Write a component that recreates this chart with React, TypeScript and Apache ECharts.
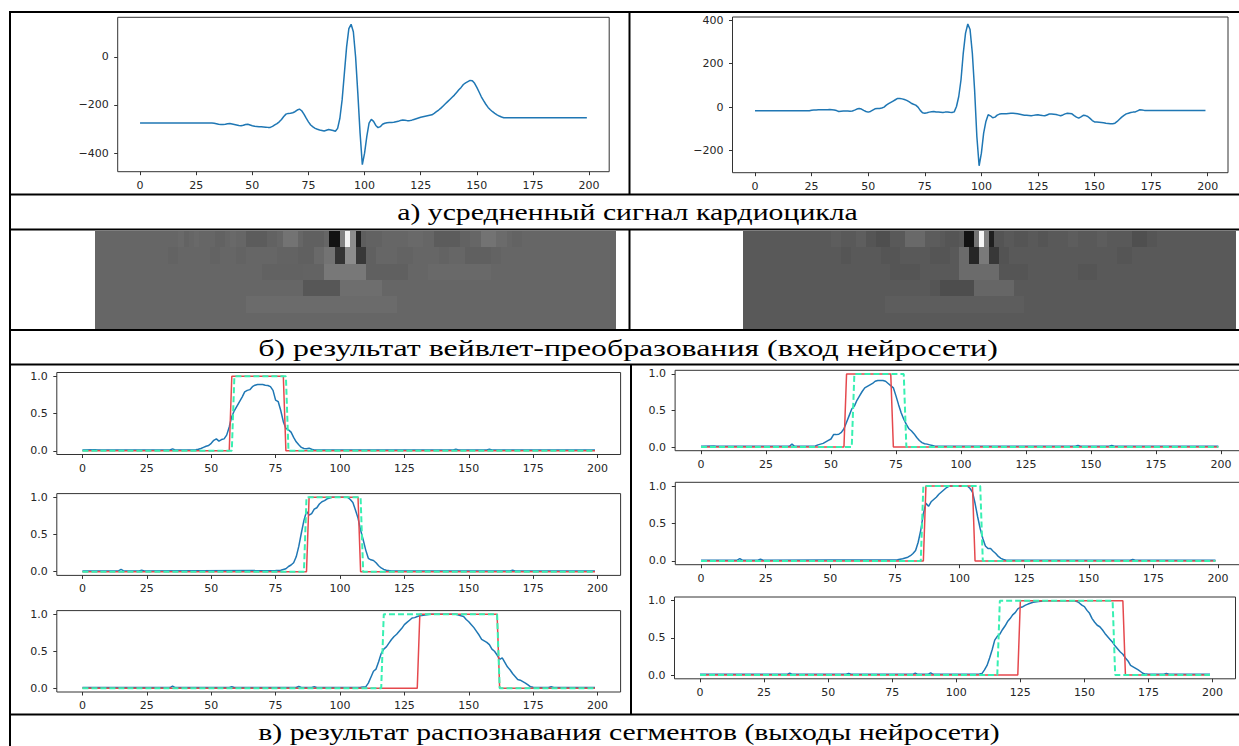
import React, { useEffect, useRef } from 'react';
import * as echarts from 'echarts';

// ---------- DATA ----------
const X_TICKS = [0, 25, 50, 75, 100, 125, 150, 175, 200];
const ECG_A_TICKS = [-400, -200, 0];
const ECG_B_TICKS = [-200, 0, 200, 400];
const SEG_TICKS = [0, 0.5, 1];

const CAPTION_A = 'а) усредненный сигнал кардиоцикла';
const CAPTION_B = 'б) результат вейвлет-преобразования (вход нейросети)';
const CAPTION_C = 'в) результат распознавания сегментов (выходы нейросети)';

// averaged cardiocycle, left
const ECG_A = [
  -275, -275, -275, -275, -275, -275, -275, -275, -275, -275,
  -275, -275, -275, -275, -275, -275, -275, -275, -275, -275,
  -275, -275, -275, -275, -275, -275, -275, -275, -275, -275,
  -275, -275, -275, -276, -278, -280, -281, -281, -280, -278,
  -277, -279, -281, -283, -285, -286, -284, -281, -280, -283,
  -286, -288, -289, -290, -290, -291, -292, -293, -293, -289,
  -283, -277, -270, -260, -248, -238, -235, -234, -232, -228,
  -221, -217, -224, -238, -255, -270, -283, -291, -297, -301,
  -304, -306, -308, -305, -302, -304, -306, -309, -297, -255,
  -179, -69, 41, 117, 135, 104, 0, -152, -317, -448,
  -400, -330, -275, -260, -268, -285, -294, -290, -280, -276,
  -274, -273, -273, -272, -270, -268, -264, -262, -263, -265,
  -265, -263, -260, -257, -254, -251, -249, -247, -245, -243,
  -241, -235, -228, -221, -213, -204, -195, -186, -177, -168,
  -159, -148, -137, -127, -115, -108, -103, -98, -99, -110,
  -127, -146, -166, -182, -197, -210, -220, -228, -235, -241,
  -246, -250, -253, -253, -253, -253, -253, -253, -253, -253,
  -253, -253, -253, -253, -253, -253, -253, -253, -253, -253,
  -253, -253, -253, -253, -253, -253, -253, -253, -253, -253,
  -253, -253, -253, -253, -253, -253, -253, -253, -253, -253,
];

// averaged cardiocycle, right
const ECG_B = [
  -17, -17, -17, -17, -17, -17, -17, -17, -17, -17,
  -17, -17, -17, -17, -17, -17, -17, -17, -17, -17,
  -17, -17, -17, -17, -17, -14, -13, -13, -12, -12,
  -12, -12, -12, -11, -12, -13, -16, -20, -19, -18,
  -18, -18, -19, -18, -14, -9, -6, -9, -15, -20,
  -23, -20, -14, -8, -6, -6, -4, 0, 9, 16,
  22, 28, 34, 40, 40, 38, 35, 31, 25, 18,
  13, 9, 0, -15, -26, -28, -26, -23, -21, -20,
  -22, -23, -24, -25, -23, -22, -24, -25, -22, 3,
  49, 126, 249, 341, 383, 357, 249, 80, -135, -270,
  -212, -120, -66, -35, -40, -49, -46, -37, -32, -31,
  -31, -30, -29, -28, -28, -29, -31, -33, -35, -37,
  -38, -39, -40, -38, -36, -35, -37, -39, -40, -36,
  -32, -32, -33, -34, -37, -40, -36, -31, -28, -29,
  -31, -39, -46, -51, -45, -38, -39, -43, -52, -62,
  -68, -69, -70, -71, -72, -74, -75, -77, -77, -74,
  -66, -56, -46, -38, -31, -28, -25, -23, -22, -17,
  -12, -13, -15, -15, -15, -15, -15, -15, -15, -15,
  -15, -15, -15, -15, -15, -15, -15, -15, -15, -15,
  -15, -15, -15, -15, -15, -15, -15, -15, -15, -15,
];

// wavelet images: 6 levels x 100 cells, background grey level + [from, to, grey] runs
const WAVE_A_BG = 0.4;
const WAVE_A_ROWS = [
  [[16, 17, 0.41], [17, 18, 0.39], [19, 20, 0.41], [23, 25, 0.385], [26, 27, 0.41], [29, 33, 0.36], [33, 35, 0.385], [36, 39, 0.45], [40, 44, 0.375], [45, 47, 0.07], [47, 48, 0.5], [48, 49, 0.95], [49, 50, 0.55], [50, 51, 0.12], [51, 52, 0.37], [52, 55, 0.385], [60, 63, 0.41], [65, 70, 0.36], [70, 72, 0.385], [74, 77, 0.45], [77, 79, 0.42], [80, 82, 0.39]],
  [[14, 16, 0.39], [22, 24, 0.39], [27, 29, 0.39], [35, 39, 0.39], [39, 42, 0.375], [42, 44, 0.41], [44, 46, 0.45], [46, 48, 0.2], [48, 50, 0.55], [50, 52, 0.22], [52, 54, 0.375], [58, 61, 0.39], [66, 68, 0.39], [71, 76, 0.375], [76, 78, 0.39]],
  [[32, 40, 0.385], [40, 44, 0.39], [44, 52, 0.47], [52, 60, 0.375], [64, 76, 0.41]],
  [[40, 47, 0.34], [47, 55, 0.43]],
  [[29, 58, 0.42]],
  [],
];
const WAVE_B_BG = 0.35;
const WAVE_B_ROWS = [
  [[18, 20, 0.365], [23, 25, 0.37], [25, 27, 0.335], [27, 30, 0.31], [33, 37, 0.41], [37, 40, 0.36], [41, 44, 0.335], [45, 47, 0.07], [47, 48, 0.45], [48, 49, 0.97], [49, 50, 0.5], [50, 51, 0.12], [51, 53, 0.33], [55, 58, 0.335], [60, 62, 0.335], [66, 68, 0.365], [72, 74, 0.365], [79, 82, 0.31], [82, 84, 0.335]],
  [[20, 22, 0.335], [28, 32, 0.335], [38, 42, 0.335], [44, 46, 0.42], [46, 48, 0.15], [48, 50, 0.48], [50, 52, 0.22], [52, 54, 0.325], [76, 79, 0.335]],
  [[30, 36, 0.335], [44, 52, 0.42], [52, 58, 0.335], [68, 72, 0.335]],
  [[38, 40, 0.335], [40, 47, 0.3], [47, 55, 0.4]],
  [[29, 57, 0.365]],
  [],
];
const WAVE_CELLS = 100;
const WAVE_LEVELS = 6;

// segment recognition: network output (blue), reference (red), second reference (green dashed)
const SEG_L1_PRED = [[0, 0.01], [5, 0.015], [6, 0.01], [34, 0.01], [35, 0.025], [36, 0.01], [44, 0.015], [45, 0.02], [46, 0.03], [47, 0.045], [48, 0.06], [49, 0.07], [50, 0.1], [51, 0.14], [52, 0.16], [53, 0.13], [54, 0.15], [55, 0.16], [56, 0.21], [57, 0.32], [58, 0.46], [59, 0.54], [60, 0.6], [61, 0.66], [62, 0.72], [63, 0.79], [64, 0.81], [65, 0.82], [66, 0.86], [67, 0.88], [68, 0.89], [69, 0.89], [70, 0.89], [71, 0.88], [72, 0.875], [73, 0.86], [74, 0.81], [75, 0.68], [76, 0.66], [77, 0.54], [78, 0.39], [79, 0.3], [80, 0.28], [81, 0.25], [82, 0.18], [83, 0.12], [84, 0.08], [85, 0.045], [86, 0.03], [87, 0.027], [88, 0.035], [89, 0.02], [90, 0.01], [144, 0.01], [145, 0.02], [146, 0.01], [157, 0.01], [158, 0.02], [159, 0.01], [199, 0.01]];
const SEG_L1_RED = [[0, 0], [57, 0], [58, 1], [78, 1], [79, 0], [199, 0]];
const SEG_L1_GREEN = [[0, 0], [58, 0], [59, 1], [79, 1], [80, 0], [199, 0]];

const SEG_R1_PRED = [[0, 0.01], [5, 0.015], [6, 0.01], [34, 0.01], [35, 0.04], [36, 0.01], [44, 0.015], [45, 0.03], [46, 0.04], [47, 0.05], [48, 0.07], [49, 0.09], [50, 0.11], [51, 0.17], [52, 0.17], [53, 0.175], [54, 0.2], [55, 0.25], [56, 0.34], [57, 0.43], [58, 0.52], [59, 0.56], [60, 0.64], [61, 0.7], [62, 0.76], [63, 0.81], [64, 0.83], [65, 0.85], [66, 0.87], [67, 0.9], [68, 0.91], [69, 0.91], [70, 0.91], [71, 0.9], [72, 0.87], [73, 0.84], [74, 0.81], [75, 0.7], [76, 0.58], [77, 0.47], [78, 0.38], [79, 0.31], [80, 0.25], [81, 0.22], [82, 0.18], [83, 0.13], [84, 0.09], [85, 0.06], [86, 0.045], [87, 0.04], [88, 0.03], [89, 0.02], [90, 0.01], [144, 0.01], [145, 0.02], [146, 0.01], [157, 0.01], [158, 0.02], [159, 0.01], [199, 0.01]];
const SEG_R1_RED = [[0, 0], [55, 0], [56, 1], [73, 1], [74, 0], [199, 0]];
const SEG_R1_GREEN = [[0, 0], [58, 0], [59, 1], [78, 1], [79, 0], [199, 0]];

const SEG_L2_PRED = [[0, 0.01], [14, 0.01], [15, 0.03], [16, 0.01], [22, 0.01], [23, 0.02], [24, 0.01], [75, 0.015], [77, 0.02], [78, 0.03], [79, 0.04], [80, 0.07], [81, 0.09], [82, 0.12], [83, 0.2], [84, 0.34], [85, 0.52], [86, 0.69], [87, 0.81], [88, 0.76], [89, 0.78], [90, 0.84], [91, 0.86], [92, 0.91], [93, 0.94], [94, 0.955], [95, 0.98], [96, 0.99], [97, 1.0], [103, 1.0], [104, 0.97], [105, 0.93], [106, 0.83], [107, 0.72], [108, 0.56], [109, 0.43], [110, 0.29], [111, 0.18], [112, 0.16], [113, 0.15], [114, 0.12], [115, 0.08], [116, 0.05], [117, 0.03], [118, 0.02], [120, 0.01], [166, 0.01], [167, 0.02], [168, 0.01], [199, 0.01]];
const SEG_L2_RED = [[0, 0], [87, 0], [88, 1], [107, 1], [108, 0], [199, 0]];
const SEG_L2_GREEN = [[0, 0], [86, 0], [87, 1], [108, 1], [109, 0], [199, 0]];

const SEG_R2_PRED = [[0, 0.01], [14, 0.01], [15, 0.03], [16, 0.01], [22, 0.01], [23, 0.025], [24, 0.01], [76, 0.015], [78, 0.03], [79, 0.04], [80, 0.05], [81, 0.07], [82, 0.1], [83, 0.14], [84, 0.25], [85, 0.41], [86, 0.63], [87, 0.77], [88, 0.73], [89, 0.79], [90, 0.82], [91, 0.85], [92, 0.89], [93, 0.92], [94, 0.95], [95, 0.98], [96, 1.0], [103, 1.0], [104, 0.97], [105, 0.92], [106, 0.77], [107, 0.59], [108, 0.43], [109, 0.3], [110, 0.2], [111, 0.165], [112, 0.165], [113, 0.13], [114, 0.1], [115, 0.06], [116, 0.035], [117, 0.02], [118, 0.01], [166, 0.01], [167, 0.02], [168, 0.01], [199, 0.01]];
const SEG_R2_RED = [[0, 0], [86, 0], [87, 1], [105, 1], [106, 0], [199, 0]];
const SEG_R2_GREEN = [[0, 0], [85, 0], [86, 1], [108, 1], [109, 0], [199, 0]];

const SEG_L3_PRED = [[0, 0.01], [34, 0.01], [35, 0.03], [36, 0.01], [57, 0.01], [58, 0.02], [59, 0.01], [83, 0.01], [84, 0.025], [85, 0.01], [89, 0.01], [90, 0.02], [91, 0.01], [108, 0.015], [110, 0.02], [111, 0.07], [112, 0.15], [113, 0.23], [114, 0.26], [115, 0.36], [116, 0.47], [117, 0.53], [118, 0.56], [119, 0.61], [120, 0.66], [121, 0.7], [122, 0.73], [123, 0.77], [124, 0.81], [125, 0.86], [126, 0.89], [127, 0.92], [128, 0.95], [129, 0.955], [130, 0.97], [131, 0.98], [133, 0.99], [135, 1.0], [145, 1.0], [146, 0.99], [147, 0.98], [148, 0.97], [149, 0.93], [150, 0.9], [151, 0.86], [152, 0.82], [153, 0.77], [154, 0.72], [155, 0.66], [156, 0.64], [157, 0.62], [158, 0.59], [159, 0.53], [160, 0.5], [161, 0.45], [162, 0.39], [163, 0.41], [164, 0.35], [165, 0.29], [166, 0.25], [167, 0.2], [168, 0.16], [169, 0.12], [170, 0.11], [171, 0.09], [172, 0.07], [173, 0.045], [174, 0.02], [175, 0.013], [176, 0.01], [181, 0.01], [182, 0.02], [183, 0.01], [199, 0.01]];
const SEG_L3_RED = [[0, 0], [130, 0], [131, 1], [161, 1], [162, 0], [199, 0]];
const SEG_L3_GREEN = [[0, 0], [116, 0], [117, 1], [161, 1], [162, 0], [199, 0]];

const SEG_R3_PRED = [[0, 0.01], [34, 0.01], [35, 0.025], [36, 0.01], [57, 0.01], [58, 0.02], [59, 0.01], [83, 0.01], [84, 0.025], [85, 0.01], [89, 0.01], [90, 0.03], [91, 0.01], [109, 0.015], [110, 0.02], [111, 0.07], [112, 0.13], [113, 0.23], [114, 0.34], [115, 0.47], [116, 0.52], [117, 0.55], [118, 0.61], [119, 0.66], [120, 0.72], [121, 0.76], [122, 0.81], [123, 0.84], [124, 0.89], [125, 0.91], [126, 0.92], [127, 0.94], [128, 0.955], [130, 0.98], [132, 0.99], [135, 1.0], [146, 1.0], [147, 0.99], [148, 0.97], [149, 0.94], [150, 0.92], [151, 0.87], [152, 0.83], [153, 0.76], [154, 0.71], [155, 0.67], [156, 0.65], [157, 0.61], [158, 0.56], [159, 0.52], [160, 0.48], [161, 0.44], [162, 0.39], [163, 0.35], [164, 0.31], [165, 0.28], [166, 0.23], [167, 0.19], [168, 0.13], [169, 0.11], [170, 0.09], [171, 0.07], [172, 0.045], [173, 0.02], [174, 0.013], [175, 0.01], [181, 0.01], [182, 0.02], [183, 0.01], [199, 0.01]];
const SEG_R3_RED = [[0, 0], [124, 0], [125, 1], [165, 1], [166, 0], [199, 0]];
const SEG_R3_GREEN = [[0, 0], [116, 0], [117, 1], [161, 1], [162, 0], [199, 0]];

// ---------- STYLE ----------
const BLUE = '#1f77b4';
const RED = '#e5484d';
const GREEN = '#38f0b2';
const TICK_FONT = 'DejaVu Sans';
const AXIS_COLOR = '#333333';
const LABEL_COLOR = '#262626';
const CAPTION_FAMILY = 'Liberation Serif, Times New Roman, Tinos, serif';
const CAPTION_SIZE = 24;

const fmtMinus = (v: number) => String(v).replace('-', '\u2212');
const fmtSeg = (v: number) => v.toFixed(1);

function valueAxis(gridIndex: number, min: number, max: number, ticks: number[], fmt: (v: number) => string, margin: number) {
  return {
    type: 'value',
    gridIndex,
    min,
    max,
    axisLine: { show: false, onZero: false },
    splitLine: { show: false },
    axisTick: { show: true, inside: false, length: 3.5, customValues: ticks, lineStyle: { color: AXIS_COLOR, width: 1 } },
    axisLabel: {
      show: true,
      customValues: ticks,
      formatter: fmt,
      margin,
      fontFamily: TICK_FONT,
      fontSize: 11,
      color: LABEL_COLOR,
    },
  };
}

// runs [from, to, level, grey]; background first so details are painted on top
function waveRuns(bg: number, rows: number[][][]) {
  const out: number[][] = [];
  for (let r = 0; r < WAVE_LEVELS; r++) {
    out.push([0, WAVE_CELLS, r, bg]);
    for (const [a, b, g] of rows[r]) out.push([a, b, r, g]);
  }
  return out;
}

const toXY = (arr: number[]) => arr.map((v, i) => [i, v]);

function renderCell(_params: any, api: any) {
  const x0 = api.value(0), x1 = api.value(1), row = api.value(2), g = api.value(3);
  const p0 = api.coord([x0, row]);
  const p1 = api.coord([x1, row + 1]);
  const c = Math.round(g * 255);
  const xa = Math.round(p0[0]), xb = Math.round(p1[0]);
  const ya = Math.round(Math.min(p0[1], p1[1])), yb = Math.round(Math.max(p0[1], p1[1]));
  return {
    type: 'rect',
    shape: { x: xa, y: ya, width: xb - xa, height: yb - ya },
    style: { fill: `rgb(${c},${c},${c})`, stroke: null },
  };
}

function measureText(text: string, family: string, size: number) {
  try {
    const ctx = document.createElement('canvas').getContext('2d');
    if (!ctx) return 0;
    ctx.font = `${size}px ${family.split(',').map((f) => {
      const t = f.trim();
      return t === 'serif' ? t : `"${t}"`;
    }).join(', ')}`;
    return ctx.measureText(text).width;
  } catch (e) {
    return 0;
  }
}

export default function App() {
  const ref = useRef<HTMLDivElement>(null);

  useEffect(() => {
    if (!ref.current) return;
    const chart = echarts.init(ref.current, undefined, { renderer: 'svg' });

    const plotGrid = (left: number, top: number, width: number, height: number, border = true) => ({
      left, top, width, height,
      show: border,
      borderColor: AXIS_COLOR,
      borderWidth: border ? 1 : 0,
      backgroundColor: 'transparent',
      containLabel: false,
      outerBoundsMode: 'none',
    });

    const grids = [
      plotGrid(117.7, 17.3, 491.5, 154.4), // 0 ECG A
      plotGrid(732.5, 17, 495.5, 155.7), // 1 ECG B
      plotGrid(95, 231, 521, 98, false), // 2 wave A
      plotGrid(742.5, 231, 493, 98, false), // 3 wave B
      plotGrid(56.8, 372.5, 563.8, 82), // 4 L1
      plotGrid(675.1, 370.3, 569.1, 80.4), // 5 R1
      plotGrid(56.8, 493.6, 563.8, 81.8), // 6 L2
      plotGrid(675.3, 482.3, 565.9, 82.4), // 7 R2
      plotGrid(56.8, 610.6, 563.8, 81.4), // 8 L3
      plotGrid(674.5, 597.0, 561, 81.8), // 9 R3
    ];

    const hidden = (gridIndex: number, max: number, inverse = false) => ({
      type: 'value', gridIndex, min: 0, max, inverse, show: false,
      axisLine: { show: false, onZero: false }, splitLine: { show: false },
    });

    const xAxes: any[] = [
      valueAxis(0, -9.95, 208.95, X_TICKS, fmtMinus, 8),
      valueAxis(1, -9.95, 208.95, X_TICKS, fmtMinus, 8),
      hidden(2, WAVE_CELLS),
      hidden(3, WAVE_CELLS),
    ];
    const yAxes: any[] = [
      valueAxis(0, -477, 164, ECG_A_TICKS, fmtMinus, 9),
      valueAxis(1, -302, 415, ECG_B_TICKS, fmtMinus, 9),
      hidden(2, WAVE_LEVELS, true),
      hidden(3, WAVE_LEVELS, true),
    ];
    for (let g = 4; g < 10; g++) {
      xAxes.push(valueAxis(g, -9.95, 208.95, X_TICKS, fmtMinus, 8));
      yAxes.push(valueAxis(g, -0.05, 1.05, SEG_TICKS, fmtSeg, 9));
    }

    const line = (idx: number, data: number[][], color: string, dashed = false, width = 1.5, z = 2) => ({
      type: 'line',
      xAxisIndex: idx,
      yAxisIndex: idx,
      data,
      showSymbol: false,
      symbol: 'none',
      silent: true,
      z,
      lineStyle: { color, width, type: dashed ? [6, 3] : 'solid' },
    });

    const segs = [
      [SEG_L1_PRED, SEG_L1_RED, SEG_L1_GREEN],
      [SEG_R1_PRED, SEG_R1_RED, SEG_R1_GREEN],
      [SEG_L2_PRED, SEG_L2_RED, SEG_L2_GREEN],
      [SEG_R2_PRED, SEG_R2_RED, SEG_R2_GREEN],
      [SEG_L3_PRED, SEG_L3_RED, SEG_L3_GREEN],
      [SEG_R3_PRED, SEG_R3_RED, SEG_R3_GREEN],
    ];

    const series: any[] = [
      line(0, toXY(ECG_A), BLUE),
      line(1, toXY(ECG_B), BLUE),
      { type: 'custom', xAxisIndex: 2, yAxisIndex: 2, data: waveRuns(WAVE_A_BG, WAVE_A_ROWS), renderItem: renderCell, silent: true, clip: false },
      { type: 'custom', xAxisIndex: 3, yAxisIndex: 3, data: waveRuns(WAVE_B_BG, WAVE_B_ROWS), renderItem: renderCell, silent: true, clip: false },
    ];
    segs.forEach((s, k) => {
      const g = 4 + k;
      series.push(line(g, s[0], BLUE, false, 1.5, 2));
      series.push(line(g, s[1], RED, false, 1.5, 3));
      series.push(line(g, s[2], GREEN, true, 2, 4));
    });

    const L = 10, R = 1239, T = 12;
    const hl = (y: number, x1 = L, x2 = R) => ({ type: 'line', shape: { x1, y1: y, x2, y2: y }, style: { stroke: '#000', lineWidth: 2 }, z: 100 });
    const vl = (x: number, y1: number, y2: number) => ({ type: 'line', shape: { x1: x, y1, x2: x, y2 }, style: { stroke: '#000', lineWidth: 2 }, z: 100 });
    // caption fitted to the width it occupies in the reference
    const caption = (text: string, x1: number, x2: number, y: number) => {
      const w = measureText(text, CAPTION_FAMILY, CAPTION_SIZE);
      const sx = w > 0 ? (x2 - x1) / w : 1;
      return {
        type: 'text', x: (x1 + x2) / 2, y, scaleX: sx, z: 100,
        style: {
          text,
          fontFamily: CAPTION_FAMILY,
          fontSize: CAPTION_SIZE,
          fill: '#000',
          align: 'center',
          verticalAlign: 'middle',
        },
      };
    };

    chart.setOption({
      animation: false,
      backgroundColor: '#ffffff',
      grid: grids,
      xAxis: xAxes,
      yAxis: yAxes,
      series,
      graphic: [
        hl(T), hl(194.5), hl(229.5), hl(330), hl(364.5), hl(714.5),
        vl(L, T - 1, 746),
        vl(629.5, T, 194.5), vl(629.5, 229.5, 330), vl(631, 364.5, 714.5),
        caption(CAPTION_A, 397, 858, 212),
        caption(CAPTION_B, 258, 998, 347.5),
        caption(CAPTION_C, 258, 1000, 732),
      ],
    });

    return () => chart.dispose();
  }, []);

  return <div ref={ref} style={{ position: 'fixed', left: 0, top: 0, width: 1239, height: 746 }} />;
}
